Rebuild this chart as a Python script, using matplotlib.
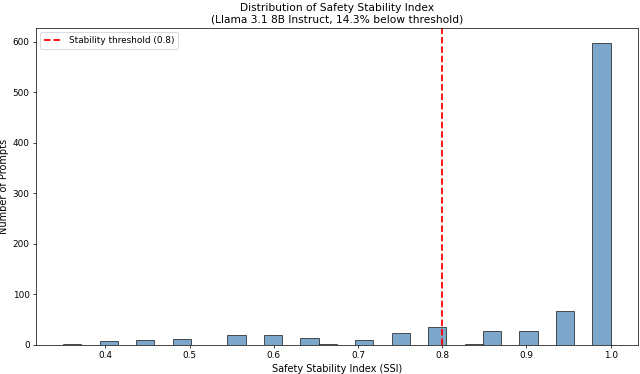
""" Histogram of Safety Stability Index scores """

import numpy as np
import matplotlib.pyplot as plt

# distinct SSI values seen in the data and how many prompts got each one
ssi_values = [0.35, 0.40, 0.45, 0.50, 0.55, 0.60, 0.65, 0.667, 0.70, 0.75,
              0.80, 0.833, 0.85, 0.90, 0.95, 1.00]
prompt_counts = [2, 7, 9, 11, 20, 20, 13, 1, 10, 23, 36, 1, 28, 28, 66, 597]

threshold = 0.8
model_name = "Llama 3.1 8B Instruct"
pct_below = 14.3

ssi = np.repeat(ssi_values, prompt_counts)

fig, ax = plt.subplots(figsize=(10, 5.84375))

ax.hist(ssi, bins=30, color="steelblue", alpha=0.7, edgecolor="black")
ax.axvline(threshold, color="red", linestyle="--", linewidth=2,
           label=f"Stability threshold ({threshold})")

ax.set_xlabel("Safety Stability Index (SSI)", fontsize=11)
ax.set_ylabel("Number of Prompts", fontsize=11)
ax.set_title(f"Distribution of Safety Stability Index\n({model_name}, {pct_below}% below threshold)",
             fontsize=12)
ax.legend(loc="upper left")

# margins are tight in the original (saved with a tight bbox)
plt.subplots_adjust(left=0.056, right=0.997, bottom=0.078, top=0.925)
plt.savefig("out.png", dpi=64)
